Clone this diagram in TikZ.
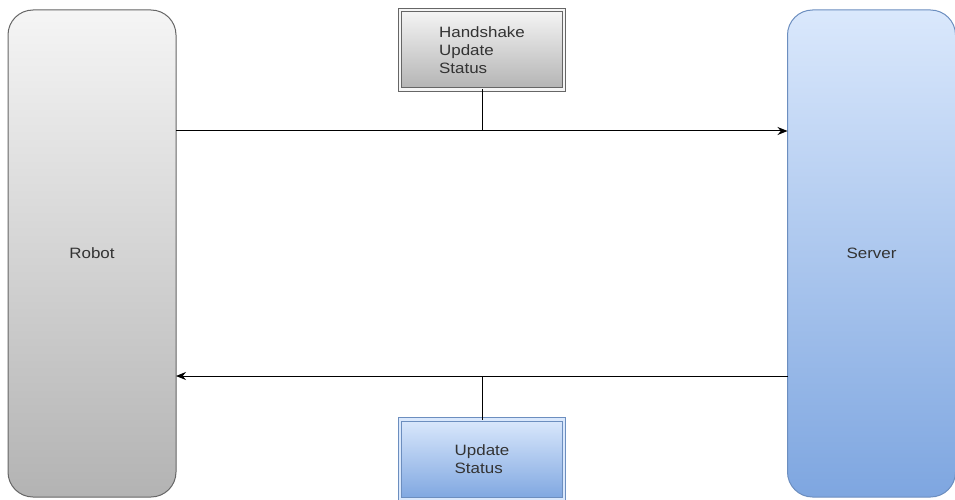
\documentclass[tikz,border=0pt]{standalone}
\usepackage{fontspec}
\setmainfont{Liberation Sans}
\newfontfamily\labelfont[FakeStretch=1.13]{Liberation Sans}
\usetikzlibrary{arrows.meta, positioning}

\definecolor{greytop}{HTML}{F5F5F5}
\definecolor{greybot}{HTML}{B3B3B3}
\definecolor{greyline}{HTML}{666666}
\definecolor{bluetop}{HTML}{DAE8FC}
\definecolor{bluebot}{HTML}{7EA6E0}
\definecolor{blueline}{HTML}{6C8EBF}
\definecolor{txt}{HTML}{333333}

\begin{document}
\begin{tikzpicture}[
        x=1pt, y=-1pt,
        every node/.style={font=\labelfont\fontsize{15}{18}\selectfont, text=txt, inner sep=0pt, outer sep=0pt},
        actor/.style={rectangle, rounded corners=25pt, line width=1pt, minimum width=168pt, minimum height=487pt},
        grey/.style={draw=greyline, top color=greytop, bottom color=greybot},
        blue/.style={draw=blueline, top color=bluetop, bottom color=bluebot},
        msgbox/.style={rectangle, line width=0.9pt, double distance=2.4pt, minimum width=164pt, align=left},
        msg/.style={-{Stealth[length=10pt, width=8pt]}, line width=1pt, black},
        tick/.style={line width=1pt, black}
    ]
    \useasboundingbox (0,0) rectangle (955,500);

    % Actors
    \node[actor, grey] (robot) at (92,253.5) {Robot};
    \node[actor, blue] (server) at (871.5,253.5) {Server};

    % Message boxes
    \node[msgbox, grey, double=greytop, minimum height=79.5pt] (hs) at (482,49.75) {Handshake\\Update\\Status};
    \node[msgbox, blue, double=bluetop, minimum height=80pt] (upd) at (482,459.5) {Update\\Status};

    % Messages
    \coordinate (r_out) at (robot.east |- 0,131);
    \coordinate (s_out) at (server.west |- 0,376);
    \draw[msg] (r_out) -- (server.west |- r_out);
    \draw[msg] (s_out) -- (robot.east |- s_out);
    \draw[tick] (hs.south) -- (hs.south |- r_out);
    \draw[tick] (upd.north) -- (upd.north |- s_out);

\end{tikzpicture}
\end{document}
